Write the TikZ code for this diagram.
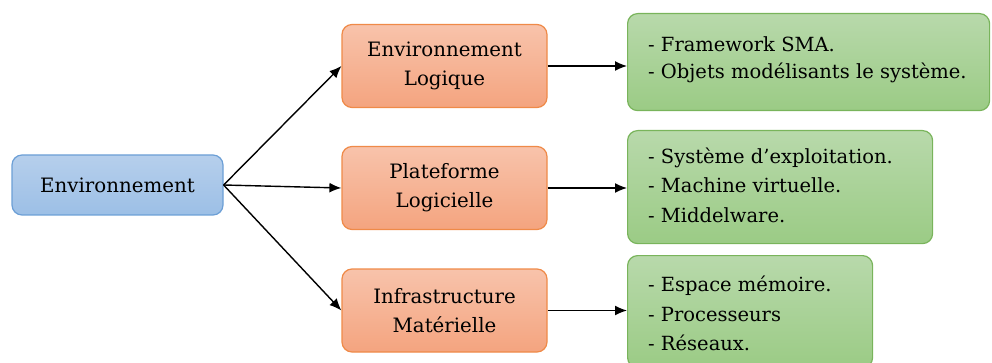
\documentclass[tikz,border=0pt]{standalone}
\usepackage{fontspec}
\setmainfont{DejaVu Serif}
\usetikzlibrary{arrows.meta}
\definecolor{blueTop}{HTML}{B6CFEC}
\definecolor{blueBot}{HTML}{9CBFE6}
\definecolor{blueLine}{HTML}{6C9FD6}
\definecolor{orTop}{HTML}{F8C3AB}
\definecolor{orBot}{HTML}{F4A47F}
\definecolor{orLine}{HTML}{EF8A48}
\definecolor{grTop}{HTML}{B8D9AB}
\definecolor{grBot}{HTML}{9BCB85}
\definecolor{grLine}{HTML}{79B45B}
\tikzset{
  box/.style={rounded corners=10pt, line width=1.2pt, font=\fontsize{19.8}{29}\selectfont, inner sep=0pt},
  rootbox/.style={box, draw=blueLine, top color=blueTop, bottom color=blueBot},
  midbox/.style={box, draw=orLine, top color=orTop, bottom color=orBot, align=center},
  leafbox/.style={box, draw=grLine, top color=grTop, bottom color=grBot},
  leaftext/.style={anchor=north west, inner sep=0pt, align=left, font=\fontsize{19.5}{29.5}\selectfont},
  link/.style={-{Latex[length=12pt,width=10pt]}, line width=1.4pt, black},
}
\begin{document}
\begin{tikzpicture}[x=1pt,y=-1pt]
\useasboundingbox (0,0) rectangle (992,363);
% root
\node[rootbox, minimum width=211pt, minimum height=60pt] (env) at (117.5,185) {Environnement};
% middle layer
\node[midbox, minimum width=205pt, minimum height=83pt] (log) at (444.5,66) {Environnement\\Logique};
\node[midbox, minimum width=205pt, minimum height=83pt] (pla) at (444.5,188) {Plateforme\\Logicielle};
\node[midbox, minimum width=205pt, minimum height=83pt] (inf) at (444.5,310.5) {Infrastructure\\Matérielle};
% leaves
\node[leafbox, minimum width=362pt, minimum height=97pt, anchor=north west] (l1) at (627,13) {};
\node[leaftext, font=\fontsize{19.5}{27.5}\selectfont] (t1) at (648,36) {- Framework SMA.\\- Objets modélisants le système.};
\node[leafbox, minimum width=305pt, minimum height=113pt, anchor=north west] (l2) at (627,130) {};
\node[leaftext] (t2) at (648,147.5) {- Système d’exploitation.\\- Machine virtuelle.\\- Middelware.};
\node[leafbox, minimum width=245pt, minimum height=112pt, anchor=north west] (l3) at (627,255) {};
\node[leaftext] (t3) at (648,276) {- Espace mémoire.\\- Processeurs\\- Réseaux.};
% connectors
\draw[link] (env.east) -- (log.west);
\draw[link] (env.east) -- (pla.west);
\draw[link] (env.east) -- (inf.west);
\draw[link] (log.east) -- (l1.west |- log.east);
\draw[link] (pla.east) -- (l2.west |- pla.east);
\draw[link] (inf.east) -- (l3.west |- inf.east);
\end{tikzpicture}
\end{document}
